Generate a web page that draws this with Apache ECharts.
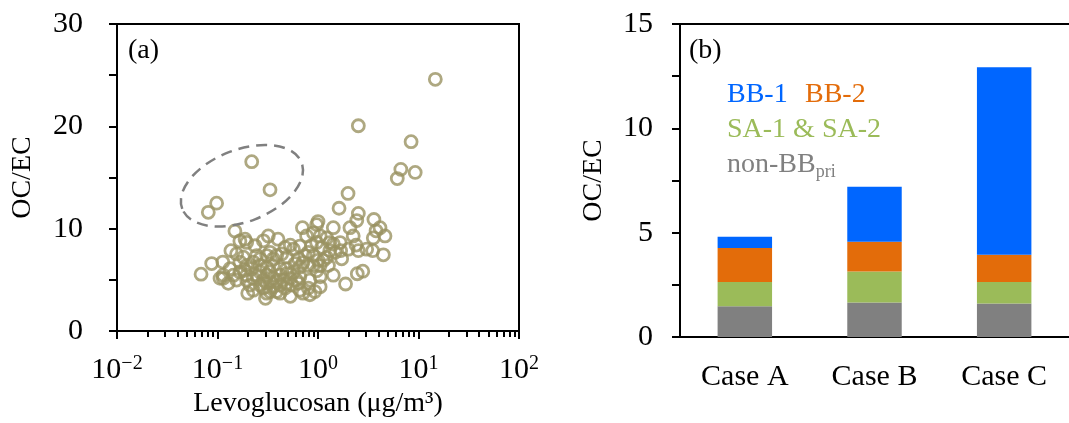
<!DOCTYPE html>
<html>
<head>
<meta charset="utf-8">
<script src="https://cdn.jsdelivr.net/npm/echarts@6/dist/echarts.min.js"></script>
<style>html,body{margin:0;padding:0;background:#fff;overflow:hidden;}#c{width:1069px;height:423px;}</style>
</head>
<body>
<div id="c"></div>
<script>
// ---- Panel (a): scatter data ----
const levo = [0.081,0.098,0.333,0.219,14.7,2.52,8.44,6.67,6.15,9.27,1.99,1.62,2.52,
  2.43,3.6,4.14,4.64,3.78,3.55,4.47,3.5,3.05,2.52,2.39,2.24,2.08,1.66,1.68,1.72,1.42,1.42,1.88,2.46,2.79,
  1.0,0.97,0.70,0.90,1.05,0.77,1.22,1.42,1.31,0.66,0.57,0.53,0.80,0.90,1.0,0.90,1.05,1.13,1.22,0.97,0.80,0.71,0.66,0.64,0.59,
  1.05,1.05,0.93,0.83,0.71,0.66,0.80,0.53,0.30,0.20,0.21,0.128,0.114,0.106,0.114,0.0686,0.0875,0.113,0.136,0.149,
  0.167,0.188,0.195,0.236,0.286,0.32,0.40,0.47,0.155,0.181,0.167,0.195,0.227,0.245,0.265,0.309,0.333,0.359,0.388,0.435,0.489,
  0.265,0.309,0.359,0.42,0.45,0.53,0.61,0.309,0.359,0.42,0.265,0.227,0.195,0.167,0.144,0.333,0.388,0.286,0.47,0.195,0.155,
  0.133,0.219,0.359,0.309,0.489,0.57,0.66,0.64,0.83,1.27,1.48,2.0,0.97,0.86,1.09,1.31,
  0.245,0.286,0.333,0.388,0.489,0.55,0.227,0.309,0.42,0.265,0.333,0.42,0.489,0.185,0.74];
const ocec = [11.6,12.5,13.8,16.55,24.6,20.06,18.5,15.8,14.9,15.5,13.45,12.0,11.5,
  10.8,10.9,10.1,9.3,9.8,9.1,7.45,7.86,8.0,7.86,8.4,9.3,10.1,8.65,7.86,7.06,10.1,5.46,4.6,5.6,5.85,
  10.7,10.4,10.1,9.6,9.3,9.3,9.1,8.5,7.86,8.3,8.0,8.4,7.7,7.4,6.9,6.4,6.4,6.9,7.2,5.9,6.4,6.7,6.26,7.06,6.6,
  5.3,4.34,3.86,3.55,3.7,4.0,4.2,3.4,3.2,3.7,4.5,4.67,5.15,5.15,5.46,5.56,6.6,6.74,7.86,9.78,
  8.8,8.98,8.66,8.34,8.82,9.3,8.98,8.18,7.54,7.22,6.74,6.42,6.74,7.38,7.06,7.38,7.7,7.06,7.38,7.54,7.22,
  5.78,5.46,5.15,5.46,4.98,5.15,4.98,4.67,4.34,4.5,4.5,5.15,5.46,5.78,5.46,3.86,3.86,4.2,4.2,4.98,4.98,
  6.1,6.1,6.42,6.26,6.1,5.78,5.3,4.67,4.98,6.42,7.7,8.0,8.66,8.34,8.18,8.65,
  5.46,4.98,4.82,4.82,4.67,4.5,4.0,3.7,3.7,6.42,5.78,6.1,5.62,5.94,7.38];
const xExponents = ['\u22122','\u22121','0','1','2'];
const xMinorTicks = [0.02,0.03,0.04,0.05,0.06,0.07,0.08,0.09,0.2,0.3,0.4,0.5,0.6,0.7,0.8,0.9,2,3,4,5,6,7,8,9,20,30,40,50,60,70,80,90];
const yTicksA = [0,10,20,30];

// ---- Panel (b): stacked bars ----
const cases = ['Case A','Case B','Case C'];
const nonBBpri = [1.47,1.65,1.60];
const sa12 = [1.17,1.49,1.04];
const bb2 = [1.62,1.42,1.30];
const bb1 = [0.54,2.64,8.99];
const yTicksB = [0,5,10,15];

const FONT = 'Liberation Serif';
const cBlue = '#0066FF', cOrange = '#E36C0A', cGreen = '#9BBB59', cGray = '#808080';
const olive = '#9A9262';

const chart = echarts.init(document.getElementById('c'));
const scatterData = levo.map((v,i)=>[v, ocec[i]]);
const axisLineStyle = {color:'#000', width:2};
const tickStyle = {color:'#000', width:2};

const option = {
  animation:false,
  backgroundColor:'#fff',
  grid:[
    {left:117, right:550, top:24, bottom:86, show:true, borderColor:'#000', borderWidth:2, backgroundColor:'transparent'},
    {left:680, right:-10, top:24, bottom:86, show:false}
  ],
  xAxis:[
    {gridIndex:0, type:'log', logBase:10, min:0.01, max:100, position:'bottom',
     name:'Levoglucosan (\u03bcg/m\u00b3)', nameLocation:'middle', nameGap:53,
     nameTextStyle:{fontFamily:FONT, fontSize:28, color:'#000'},
     axisLine:{lineStyle:axisLineStyle}, axisTick:{length:8, lineStyle:tickStyle},
     splitLine:{show:false}, minorTick:{show:false},
     axisLabel:{fontFamily:FONT, fontSize:30, color:'#000', margin:23,
       formatter:function(v){const e=Math.round(Math.log10(v)); return '10{sup|'+xExponents[e+2]+'}';},
       rich:{sup:{fontFamily:FONT, fontSize:20, color:'#000', padding:[0,0,12,0]}}}},
    {gridIndex:0, type:'log', logBase:10, min:0.01, max:100, position:'bottom',
     axisLine:{show:false}, axisLabel:{show:false}, splitLine:{show:false},
     axisTick:{show:true, length:6, lineStyle:tickStyle, customValues:xMinorTicks}},
    {gridIndex:1, type:'category', data:cases, position:'bottom',
     axisLine:{lineStyle:axisLineStyle}, axisTick:{length:7, lineStyle:tickStyle, alignWithLabel:false},
     axisLabel:{fontFamily:FONT, fontSize:30, color:'#000', margin:25}},
    {gridIndex:1, type:'category', data:cases, position:'top',
     axisLine:{show:true, lineStyle:axisLineStyle}, axisTick:{show:false}, axisLabel:{show:false}}
  ],
  yAxis:[
    {gridIndex:0, type:'value', min:0, max:30, interval:5,
     name:'OC/EC', nameLocation:'middle', nameGap:80, nameRotate:90,
     nameTextStyle:{fontFamily:FONT, fontSize:28, color:'#000'},
     axisLine:{show:true, lineStyle:axisLineStyle}, axisTick:{show:true, length:8, lineStyle:tickStyle},
     splitLine:{show:false},
     axisLabel:{fontFamily:FONT, fontSize:30, color:'#000', margin:34, customValues:yTicksA}},
    {gridIndex:1, type:'value', min:0, max:15, interval:2.5,
     name:'OC/EC', nameLocation:'middle', nameGap:72, nameRotate:90,
     nameTextStyle:{fontFamily:FONT, fontSize:28, color:'#000'},
     axisLine:{show:true, lineStyle:axisLineStyle}, axisTick:{show:true, length:8, lineStyle:tickStyle},
     splitLine:{show:false},
     axisLabel:{fontFamily:FONT, fontSize:30, color:'#000', margin:27, customValues:yTicksB}}
  ],
  series:[
    {type:'scatter', xAxisIndex:0, yAxisIndex:0, data:scatterData, symbol:'circle', symbolSize:12,
     itemStyle:{color:'transparent', borderColor:olive, borderWidth:2.8}},
    {name:'non-BBpri', type:'bar', xAxisIndex:2, yAxisIndex:1, stack:'s', data:nonBBpri, barWidth:'42%', itemStyle:{color:cGray}},
    {name:'SA-1 & SA-2', type:'bar', xAxisIndex:2, yAxisIndex:1, stack:'s', data:sa12, barWidth:'42%', itemStyle:{color:cGreen}},
    {name:'BB-2', type:'bar', xAxisIndex:2, yAxisIndex:1, stack:'s', data:bb2, barWidth:'42%', itemStyle:{color:cOrange}},
    {name:'BB-1', type:'bar', xAxisIndex:2, yAxisIndex:1, stack:'s', data:bb1, barWidth:'42%', itemStyle:{color:cBlue}}
  ]
};
chart.setOption(option);

// text annotations + dashed ellipse (ellipse centre given in data units)
const ellipseCenter = [0.175, 14.2];
const pc = chart.convertToPixel({xAxisIndex:0, yAxisIndex:0}, ellipseCenter);
chart.setOption({graphic:[
  {type:'text', left:128, top:37, style:{text:'(a)', fontFamily:FONT, fontSize:28, fill:'#000'}},
  {type:'text', left:689, top:37, style:{text:'(b)', fontFamily:FONT, fontSize:28, fill:'#000'}},
  {type:'text', left:727, top:81, style:{text:'BB-1', fontFamily:FONT, fontSize:28, fill:cBlue}},
  {type:'text', left:805, top:81, style:{text:'BB-2', fontFamily:FONT, fontSize:28, fill:cOrange}},
  {type:'text', left:727, top:116, style:{text:'SA-1 & SA-2', fontFamily:FONT, fontSize:28, fill:cGreen}},
  {type:'text', left:727, top:151, style:{text:'non-BB{sub|pri}', fontFamily:FONT, fontSize:28, fill:cGray,
    rich:{sub:{fontFamily:FONT, fontSize:18, fill:cGray, color:cGray, padding:[14,0,0,0]}}}},
  {type:'ellipse', x:pc[0], y:pc[1], rotation:0.37, shape:{cx:0, cy:0, rx:64, ry:36},
   style:{fill:null, stroke:'#808080', lineWidth:2.5, lineDash:[11,7]}, z:10}
]});
</script>
</body>
</html>
